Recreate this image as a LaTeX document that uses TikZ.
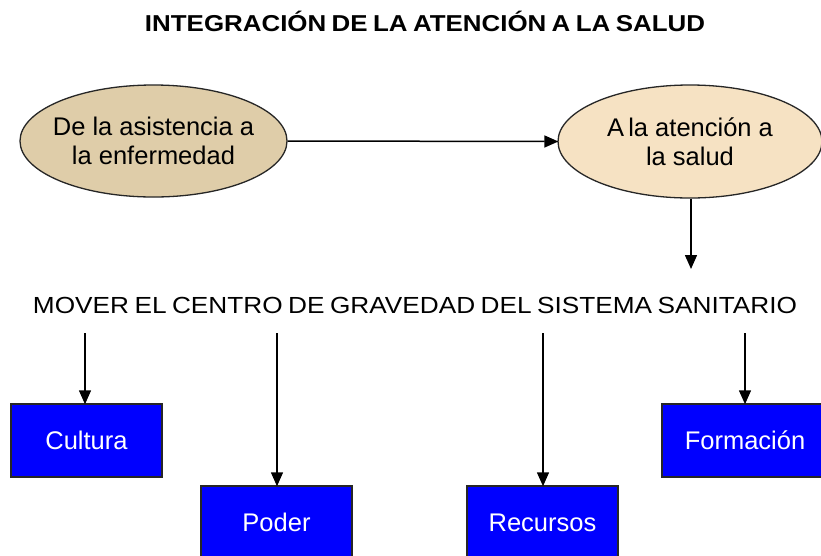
\documentclass[tikz,border=0pt]{standalone}
\usepackage{fontspec}
\setmainfont{Liberation Sans}
\newfontfamily\tightfont[WordSpace=0.75]{Liberation Sans}
\usetikzlibrary{shapes.geometric,arrows.meta}
\definecolor{ellA}{RGB}{223,205,169}
\definecolor{ellB}{RGB}{246,226,195}
\definecolor{boxblue}{RGB}{0,0,255}
\tikzset{
  ell/.style={ellipse, draw=black!85, line width=1.3pt, inner sep=0pt,
    minimum width=267pt, minimum height=112pt},
  elltext/.style={align=center, inner sep=0pt, font=\fontsize{25.5}{29}\selectfont},
  bluebox/.style={rectangle, draw=black!85, line width=1.5pt, fill=boxblue,
    minimum width=151pt, minimum height=73pt, inner sep=0pt, text=white,
    font=\fontsize{25.5}{30}\selectfont},
  arr/.style={line width=1.5pt, -{Triangle[length=14pt,width=12pt]}, shorten >=-1pt}
}
\begin{document}
\begin{tikzpicture}[x=1pt,y=-1pt]
\useasboundingbox (0,0) rectangle (821,555);
\fill[white] (0,0) rectangle (821,555);
\node[inner sep=0pt, anchor=base] (title) at (425,31) {\resizebox{560pt}{\height}{\tightfont\fontsize{23}{26}\selectfont\bfseries INTEGRACIÓN DE LA ATENCIÓN A LA SALUD}};
\node[ell, fill=ellA] (e1) at (153.5,141) {};
\node[elltext] (e1t) at (e1.center) {De la asistencia a\\la enfermedad};
\node[ell, fill=ellB, minimum width=264pt, minimum height=113pt] (e2) at (690,141.5) {};
\node[elltext] (e2t) at (e2.center) {A\,la atención a\\la salud};
\draw[arr] (e1.east) -- (e2.west);
\coordinate (d2) at (691,268);
\draw[arr] (e2.south -| d2) -- (d2);
\node[inner sep=0pt, anchor=base] (main) at (415,313) {\resizebox{764pt}{\height}{\tightfont\fontsize{23.3}{26}\selectfont MOVER EL CENTRO DE GRAVEDAD DEL SISTEMA SANITARIO}};
\node[bluebox] (cult) at (86.5,440.5) {Cultura};
\node[bluebox] (pod) at (276.5,522.5) {Poder};
\node[bluebox] (rec) at (542.5,522.5) {Recursos};
\node[bluebox, minimum width=166pt] (form) at (745,440.5) {Formación};
\coordinate (s1) at (85,333);
\coordinate (s2) at (277,333);
\coordinate (s3) at (543,333);
\coordinate (s4) at (745,333);
\draw[arr] (s1) -- (s1 |- cult.north);
\draw[arr] (s2) -- (s2 |- pod.north);
\draw[arr] (s3) -- (s3 |- rec.north);
\draw[arr] (s4) -- (s4 |- form.north);
\end{tikzpicture}
\end{document}
